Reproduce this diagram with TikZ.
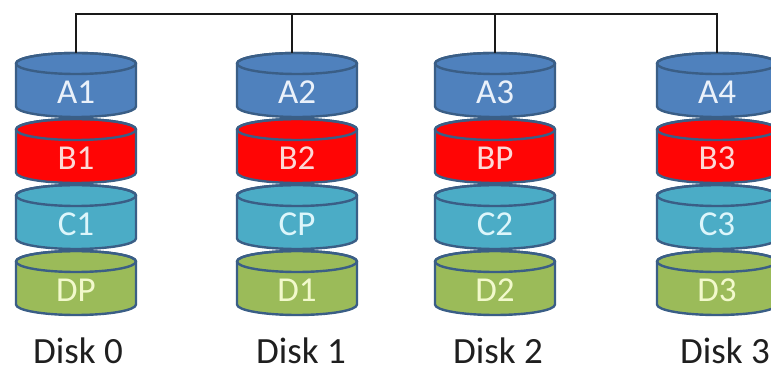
\documentclass[tikz,border=0pt]{standalone}
\usepackage{fontspec}
\setmainfont{Carlito}
\definecolor{rim}{HTML}{3A5E86}
\definecolor{fillA}{HTML}{4F81BD}
\definecolor{fillB}{HTML}{FF0505}
\definecolor{fillC}{HTML}{4BACC6}
\definecolor{fillD}{HTML}{9BBB59}
\definecolor{txtA}{HTML}{EAF1FA}
\definecolor{txtB}{HTML}{FCD9D6}
\definecolor{txtC}{HTML}{DDF6FB}
\definecolor{txtD}{HTML}{F2F9CC}
\tikzset{
  drumbody/.style={draw=rim, line width=2.4pt, line join=round},
  drumtext/.style={inner sep=0pt, font=\fontsize{35}{42}\selectfont},
  disklabel/.style={inner sep=0pt, anchor=base, text=black!88, font=\fontsize{37}{44}\selectfont},
  bus/.style={draw=black!90, line width=2.6pt, line cap=rect},
  drop/.style={draw=black!90, line width=1.7pt}
}
% one can-shaped drum: name, centre x, top y, fill, text colour, label
\newcommand{\drum}[6]{%
  \path[drumbody, fill=#4] (#2-60,#3-10.5) -- ++(0,-43)
    arc[start angle=180, end angle=360, x radius=60, y radius=10.5] -- ++(0,43)
    arc[start angle=0, end angle=180, x radius=60, y radius=10.5] -- cycle;
  \draw[drumbody] (#2,#3-10.5) ellipse[x radius=60, y radius=10.5];
  \node[drumtext, text=#5] (#1) at (#2,#3-39) {#6};
}
\begin{document}
\begin{tikzpicture}[x=1pt, y=1pt]
  \useasboundingbox (0,0) rectangle (771,372);
  \clip (0,0) rectangle (771,372);
  \fill[white] (0,0) rectangle (771,372);

  % disk 0
  \drum{a1}{76}{319}{fillA}{txtA}{A1}
  \drum{b1}{76}{253}{fillB}{txtB}{B1}
  \drum{c1}{76}{187}{fillC}{txtC}{C1}
  \drum{dp}{76}{121}{fillD}{txtD}{DP}
  % disk 1
  \drum{a2}{297}{319}{fillA}{txtA}{A2}
  \drum{b2}{297}{253}{fillB}{txtB}{B2}
  \drum{cp}{297}{187}{fillC}{txtC}{CP}
  \drum{d1}{297}{121}{fillD}{txtD}{D1}
  % disk 2
  \drum{a3}{495}{319}{fillA}{txtA}{A3}
  \drum{bp}{495}{253}{fillB}{txtB}{BP}
  \drum{c2}{495}{187}{fillC}{txtC}{C2}
  \drum{d2}{495}{121}{fillD}{txtD}{D2}
  % disk 3
  \drum{a4}{717}{319}{fillA}{txtA}{A4}
  \drum{b3}{717}{253}{fillB}{txtB}{B3}
  \drum{c3}{717}{187}{fillC}{txtC}{C3}
  \drum{d3}{717}{121}{fillD}{txtD}{D3}

  % disk captions
  \node[disklabel] (disk0) at (78,8) {Disk 0};
  \node[disklabel] (disk1) at (301,8) {Disk 1};
  \node[disklabel] (disk2) at (498,8) {Disk 2};
  \node[disklabel] (disk3) at (725,8) {Disk 3};

  % shared bus and the drops to each disk
  \coordinate (bus0) at (76,358);
  \coordinate (bus1) at (292,358);
  \coordinate (bus2) at (495,358);
  \coordinate (bus3) at (717,358);
  \coordinate (top0) at (76,319);
  \coordinate (top1) at (292,319);
  \coordinate (top2) at (495,319);
  \coordinate (top3) at (717,319);
  \draw[drop] (bus0) -- (top0);
  \draw[drop] (bus1) -- (top1);
  \draw[drop] (bus2) -- (top2);
  \draw[drop] (bus3) -- (top3);
  \draw[bus] (bus0) -- (bus3);
\end{tikzpicture}
\end{document}
